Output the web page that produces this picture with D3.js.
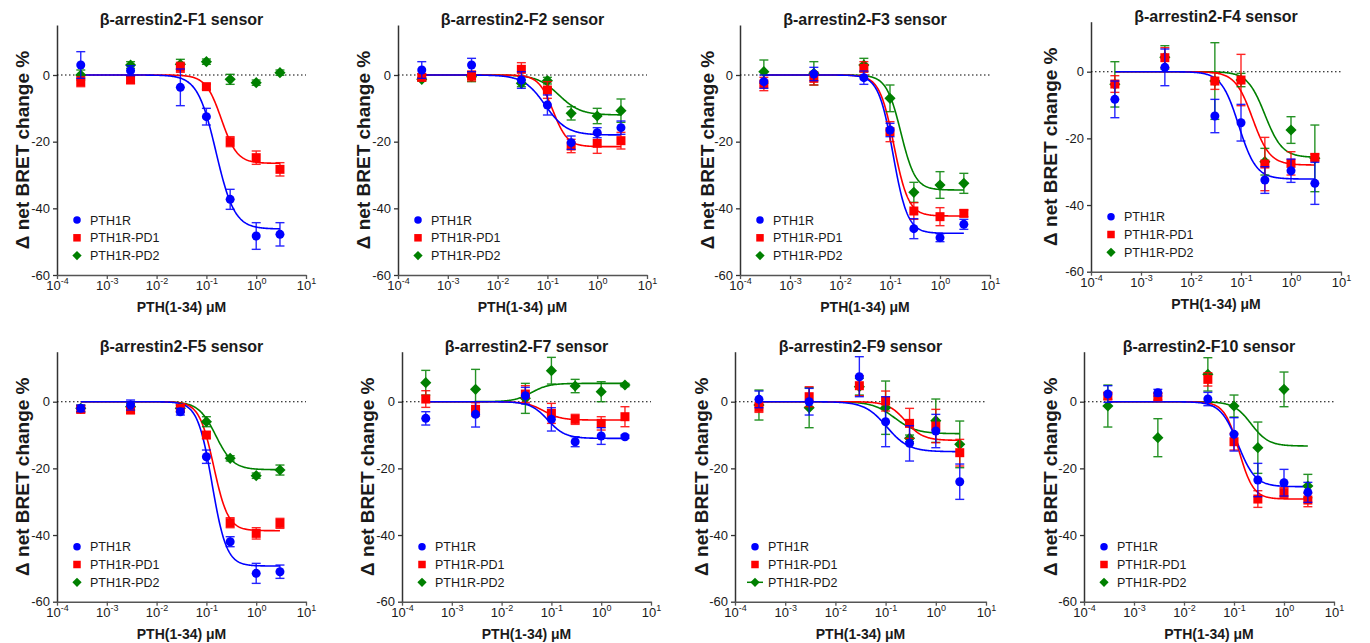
<!DOCTYPE html>
<html><head><meta charset="utf-8">
<script src="https://cdn.jsdelivr.net/npm/d3@7"></script>
<style>
body{margin:0;background:#fff}
svg{display:block}
text{font-family:"Liberation Sans",Arial,Helvetica,sans-serif;fill:#1a1a1a}
</style>
</head><body>
<svg id="chart" width="1370" height="643"></svg>
<script>
// ---------- data ----------
const panelTitles = ["β-arrestin2-F1 sensor","β-arrestin2-F2 sensor","β-arrestin2-F3 sensor","β-arrestin2-F4 sensor",
                     "β-arrestin2-F5 sensor","β-arrestin2-F7 sensor","β-arrestin2-F9 sensor","β-arrestin2-F10 sensor"];
const seriesNames = ["PTH1R","PTH1R-PD1","PTH1R-PD2"];
const doses = [0.0003, 0.003, 0.03, 0.1, 0.3, 1, 3];   // µM
const xTickValues = [1e-4, 1e-3, 1e-2, 1e-1, 1e0, 1e1];
const xTickExponents = ["-4","-3","-2","-1","0","1"];
const yTickValues = [0, -20, -40, -60];
const xLabel = "PTH(1-34) μM";
const yLabel = "Δ net BRET change %";

// means per panel (F1,F2,F3,F4,F5,F7,F9,F10)
const meansPTH1R = [
  [3.0, 1.3, -3.7, -12.5, -37.3, -48.3, -47.8],
  [1.5, 3.0, -1.5, -9.0, -20.3, -17.3, -15.8],
  [-2.0, 0.3, -0.8, -16.5, -46.1, -48.8, -44.8],
  [-8.3, 1.3, -13.3, -15.3, -32.5, -29.7, -33.5],
  [-2.0, -1.0, -3.0, -16.5, -42.0, -51.5, -51.0],
  [-5.0, -3.8, 1.8, -5.3, -12.0, -10.3, -10.5],
  [0.7, 0.0, 7.5, -6.0, -12.5, -8.8, -24.0],
  [2.3, 2.7, 0.8, -9.8, -23.5, -24.3, -27.2]
];
const semPTH1R = [
  [4.0, 1.5, 5.5, 2.5, 3.0, 4.0, 3.5],
  [2.5, 2.0, 2.5, 3.0, 2.0, 1.5, 2.0],
  [2.0, 2.0, 2.0, 2.0, 3.0, 1.2, 1.5],
  [5.5, 5.5, 5.0, 5.5, 4.0, 3.5, 6.3],
  [1.0, 1.5, 1.0, 2.0, 1.5, 3.0, 2.0],
  [2.0, 3.8, 2.5, 3.5, 1.5, 2.5, 0.5],
  [2.5, 4.0, 6.0, 7.5, 5.3, 5.0, 5.3],
  [2.5, 1.0, 2.0, 5.0, 5.0, 4.0, 3.0]
];
const meansPD1 = [
  [-2.0, -1.5, 2.3, -3.5, -20.0, -24.8, -28.3],
  [-0.7, -0.3, 1.7, -4.5, -21.3, -20.5, -19.7],
  [-2.7, -1.0, 2.0, -17.0, -40.8, -42.5, -41.5],
  [-3.7, 4.2, -2.8, -2.5, -27.7, -27.5, -25.7],
  [-2.3, -2.5, -2.0, -10.0, -36.3, -39.5, -36.5],
  [0.8, -2.3, 2.3, -3.5, -5.3, -6.5, -4.5],
  [-1.7, 1.5, 4.8, 0.2, -6.5, -7.3, -15.3],
  [1.7, 1.5, 6.7, -12.0, -29.2, -27.3, -29.5]
];
const semPD1 = [
  [1.5, 1.0, 1.5, 0.8, 1.5, 2.0, 2.0],
  [1.0, 1.5, 2.0, 2.5, 2.0, 3.0, 2.5],
  [2.0, 2.0, 2.0, 3.0, 2.5, 2.7, 1.0],
  [2.5, 3.0, 2.5, 7.7, 8.0, 3.5, 1.0],
  [1.0, 1.0, 1.0, 1.0, 1.5, 1.7, 1.5],
  [2.5, 2.0, 2.5, 3.0, 1.5, 2.0, 3.0],
  [1.5, 3.0, 3.0, 3.0, 4.5, 5.0, 4.0],
  [1.0, 1.0, 2.0, 2.5, 2.5, 1.5, 2.0]
];
const meansPD2 = [
  [0.0, 3.0, 3.2, 4.0, -1.3, -2.3, 0.7],
  [-1.3, -0.5, -2.5, -1.7, -11.5, -12.3, -10.7],
  [1.0, 0.5, 3.0, -7.0, -35.2, -33.0, -32.5],
  [-3.8, 4.3, -2.8, -2.5, -27.0, -17.5, -26.0],
  [-2.0, -1.5, -2.0, -6.0, -17.0, -22.2, -20.5],
  [5.7, 3.7, 1.0, 9.3, 4.7, 3.0, 5.0],
  [-1.0, -1.8, 4.5, -1.8, -11.0, -5.7, -12.8],
  [-1.3, -10.8, 8.2, -1.3, -13.8, 3.7, -25.3]
];
const semPD2 = [
  [1.5, 1.0, 1.5, 0.8, 1.5, 0.8, 0.8],
  [0.5, 1.5, 1.0, 1.0, 2.0, 2.3, 3.5],
  [3.5, 3.5, 2.0, 4.0, 3.0, 4.0, 3.0],
  [6.8, 3.5, 11.5, 2.0, 4.0, 4.0, 10.0],
  [1.0, 1.0, 1.0, 1.5, 0.8, 0.8, 1.5],
  [3.7, 6.0, 4.5, 4.0, 2.0, 3.0, 0.5],
  [4.5, 6.0, 2.5, 8.0, 1.0, 6.5, 7.0],
  [6.3, 5.7, 5.0, 3.3, 7.7, 5.2, 3.5]
];
// fitted curves [bottom, EC50 (µM), Hill slope], top = 0; null = no fit drawn
const fitPTH1R = [[-46.2,0.156,2.35],[-18,0.09,2],[-47.5,0.115,3],[-32.2,0.09,2.5],[-49.3,0.13,3],[-11,0.085,2.5],[-15,0.105,2],[-25.5,0.12,2.5]];
const fitPD1   = [[-26.5,0.2,2.75],[-21.5,0.13,3],[-42.3,0.12,3],[-28,0.17,2.5],[-38.7,0.14,3],[-5.5,0.07,2.5],[-11.6,0.25,2.5],[-29.2,0.125,3]];
const fitPD2   = [null,[-12,0.17,2],[-34.5,0.165,3],[-25.7,0.3,2.5],[-20.4,0.155,2.5],[5.5,0.04,2.5],[-9.6,0.15,2],[-13.3,0.22,2.5]];

// ---------- layout / style ----------
const layout = [
  {x0:57,  x1:306,  y0:75,    lab:-36},
  {x0:398, x1:647,  y0:75,    lab:-36},
  {x0:740, x1:990,  y0:75,    lab:-34},
  {x0:1091,x1:1341, y0:71.7,  lab:-42},
  {x0:57,  x1:306,  y0:401.7, lab:-36},
  {x0:402, x1:651,  y0:401.7, lab:-36},
  {x0:735, x1:986,  y0:401.7, lab:-35},
  {x0:1084,x1:1334, y0:401.7, lab:-35}
];
const colors = ["#0000ff","#ff0000","#008000"];
const allMeans = [meansPTH1R, meansPD1, meansPD2];
const allSem = [semPTH1R, semPD1, semPD2];
const allFit = [fitPTH1R, fitPD1, fitPD2];
const drawOrder = [2,1,0];

const svg = d3.select("#chart");

function marker(g, s, cx, cy, size){
  if (s===0) g.append("circle").attr("cx",cx).attr("cy",cy).attr("r",size/2).attr("fill",colors[0]);
  else if (s===1) g.append("rect").attr("x",cx-size/2).attr("y",cy-size/2).attr("width",size).attr("height",size).attr("fill",colors[1]);
  else { const h=size*0.62; g.append("path").attr("d",`M${cx},${cy-h}L${cx+h},${cy}L${cx},${cy+h}L${cx-h},${cy}Z`).attr("fill",colors[2]); }
}

panelTitles.forEach((title, p) => {
  const L = layout[p];
  const x = d3.scaleLog().domain([1e-4, 10]).range([L.x0, L.x1]);
  const y = d3.scaleLinear().domain([-60, 15]).range([L.y0 + 200, L.y0 - 50]);
  const g = svg.append("g");

  // y axis
  const ya = g.append("g").attr("transform",`translate(${L.x0},0)`)
    .call(d3.axisLeft(y).tickValues(yTickValues).tickSize(4).tickSizeOuter(0).tickPadding(3).tickFormat(d=>String(d)));
  ya.select(".domain").attr("stroke","#333").attr("stroke-width",1.5);
  ya.selectAll(".tick line").attr("stroke","#333").attr("stroke-width",1.3);
  ya.selectAll(".tick text").attr("font-size",13).attr("fill","#1a1a1a").attr("font-family","Liberation Sans, Arial, sans-serif");

  // x axis
  const xa = g.append("g").attr("transform",`translate(0,${L.y0+200})`)
    .call(d3.axisBottom(x).tickValues(xTickValues).tickSize(4).tickSizeOuter(0).tickFormat(""));
  xa.select(".domain").attr("stroke","#555").attr("stroke-width",1.5);
  xa.selectAll(".tick line").attr("stroke","#555").attr("stroke-width",1.3);
  xa.selectAll(".tick").each(function(d,i){
    const t = d3.select(this).append("text").attr("y",15).attr("text-anchor","middle")
      .attr("font-size",13).attr("fill","#1a1a1a");
    t.append("tspan").text("10");
    t.append("tspan").attr("font-size",9).attr("dy",-6).text(xTickExponents[i]);
  });

  // zero dotted line
  g.append("line").attr("x1",L.x0).attr("x2",L.x1).attr("y1",y(0)).attr("y2",y(0))
    .attr("stroke","#000").attr("stroke-width",1.1).attr("stroke-dasharray","1.5,2.5");

  // titles and labels
  g.append("text").attr("x",(L.x0+L.x1)/2).attr("y",L.y0-50).attr("text-anchor","middle")
    .attr("font-size",16).attr("font-weight","bold").text(title);
  g.append("text").attr("text-anchor","middle").attr("font-size",14).attr("font-weight","bold")
    .attr("x",(L.x0+L.x1)/2).attr("y",L.y0+237).text(xLabel);
  g.append("text").attr("text-anchor","middle").attr("font-size",19).attr("font-weight","bold")
    .attr("transform",`translate(${L.x0+L.lab+8},${L.y0+75}) rotate(-90)`).text(yLabel);

  // curves
  const cx = d3.range(0, 301).map(i => Math.pow(10, Math.log10(doses[0]) + i*(Math.log10(doses[6])-Math.log10(doses[0]))/300));
  const line = d3.line().x(d=>x(d[0])).y(d=>y(d[1]));
  drawOrder.forEach(s => {
    const f = allFit[s][p];
    if (!f) return;
    const pts = cx.map(c => [c, f[0] * Math.pow(c/f[1], f[2]) / (1 + Math.pow(c/f[1], f[2]))]);
    g.append("path").attr("d", line(pts)).attr("fill","none").attr("stroke",colors[s]).attr("stroke-width",1.6);
  });

  // error bars and points
  drawOrder.forEach(s => {
    const m = allMeans[s][p], e = allSem[s][p];
    const eg = g.append("g").attr("stroke",colors[s]).attr("stroke-width",1.4).attr("opacity",0.85);
    doses.forEach((d,i) => {
      const px = x(d), yt = y(m[i]+e[i]), yb = y(m[i]-e[i]);
      eg.append("line").attr("x1",px).attr("x2",px).attr("y1",yt).attr("y2",yb);
      eg.append("line").attr("x1",px-4.5).attr("x2",px+4.5).attr("y1",yt).attr("y2",yt);
      eg.append("line").attr("x1",px-4.5).attr("x2",px+4.5).attr("y1",yb).attr("y2",yb);
    });
    doses.forEach((d,i) => marker(g, s, x(d), y(m[i]), 9));
  });

  // legend
  seriesNames.forEach((name, s) => {
    const ly = L.y0 + 145 + s*17.8;
    if (p === 6 && s === 2) {
      g.append("line").attr("x1",L.x0+12).attr("x2",L.x0+28).attr("y1",ly).attr("y2",ly).attr("stroke",colors[2]).attr("stroke-width",1.5);
    }
    marker(g, s, L.x0+20, ly, 7.5);
    g.append("text").attr("x",L.x0+33).attr("y",ly+4.5).attr("font-size",12.5).text(name);
  });
});
</script>
</body></html>
